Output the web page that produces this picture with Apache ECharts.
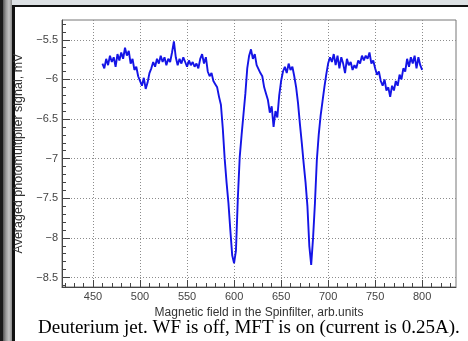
<!DOCTYPE html>
<html>
<head>
<meta charset="utf-8">
<script src="https://cdn.jsdelivr.net/npm/echarts@6/dist/echarts.min.js"></script>
<style>
  html, body { margin: 0; padding: 0; }
  body { width: 468px; height: 341px; overflow: hidden; background: #dde1e4; position: relative; }
  #panel { position: absolute; left: 12px; top: 5px; width: 456px; height: 336px;
    background: #fff; border-top: 2px solid #111; border-left: 3px solid #111; box-sizing: border-box; }
  #bar { position: absolute; left: 0; top: 0; width: 12px; height: 341px;
    background: linear-gradient(to right, #1a1a1a 0 3px, #555 3px, #9a9a9a 6px, #c4c4c4 9px, #8a8a8a 12px); }
  #chart { position: absolute; left: 0; top: 0; width: 468px; height: 341px; }
</style>
</head>
<body>
<div id="bar"></div>
<div id="panel"></div>
<div id="chart"></div>
<script>
// magnetic field, arb.units
const fieldValues = [
  460, 462, 464, 466, 468, 470, 472, 474, 476, 478,
  480, 482, 484, 486, 488, 490, 492, 494, 496, 498,
  500, 502, 504, 506, 508, 510, 512, 514, 516, 518,
  520, 522, 524, 526, 528, 530, 532, 534, 536, 538,
  540, 542, 544, 546, 548, 550, 552, 554, 556, 558,
  560, 562, 564, 566, 568, 570, 572, 574, 576, 578,
  580, 582, 584, 586, 588, 590, 592, 594, 596, 598,
  600, 602, 604, 606, 608, 610, 612, 614, 616, 618,
  620, 622, 624, 626, 628, 630, 632, 634, 636, 638,
  640, 642, 644, 646, 648, 650, 652, 654, 656, 658,
  660, 662, 664, 666, 668, 670, 672, 674, 676, 678,
  680, 682, 684, 686, 688, 690, 692, 694, 696, 698,
  700, 702, 704, 706, 708, 710, 712, 714, 716, 718,
  720, 722, 724, 726, 728, 730, 732, 734, 736, 738,
  740, 742, 744, 746, 748, 750, 752, 754, 756, 758,
  760, 762, 764, 766, 768, 770, 772, 774, 776, 778,
  780, 782, 784, 786, 788, 790, 792, 794, 796, 798,
  800
];

// averaged photomultiplier signal, mV
const signalValues = [
  -5.80, -5.86, -5.74, -5.82, -5.70, -5.78, -5.72, -5.84, -5.68, -5.76,
  -5.66, -5.74, -5.60, -5.70, -5.64, -5.80, -5.74, -5.88, -5.84, -5.96,
  -6.02, -6.08, -5.98, -6.12, -6.04, -5.92, -5.86, -5.78, -5.84, -5.74,
  -5.80, -5.70, -5.78, -5.72, -5.82, -5.74, -5.78, -5.66, -5.52, -5.72,
  -5.82, -5.74, -5.80, -5.72, -5.78, -5.84, -5.76, -5.82, -5.78, -5.84,
  -5.80, -5.86, -5.74, -5.68, -5.80, -5.72, -5.90, -5.96, -5.92, -6.02,
  -6.06, -6.10, -6.22, -6.32, -6.62, -7.00, -7.30, -7.56, -7.90, -8.22,
  -8.32, -8.16, -7.50, -6.98, -6.70, -6.44, -6.18, -5.86, -5.70, -5.62,
  -5.74, -5.68, -5.82, -5.80, -5.92, -5.96, -6.10, -6.18, -6.26, -6.42,
  -6.34, -6.60, -6.40, -6.48, -6.20, -6.02, -5.90, -5.84, -5.92, -5.80,
  -5.88, -5.84, -5.96, -6.10, -6.30, -6.56, -6.80, -7.06, -7.30, -7.60,
  -8.10, -8.34, -8.00, -7.56, -7.02, -6.70, -6.46, -6.28, -6.10, -5.94,
  -5.80, -5.72, -5.78, -5.68, -5.82, -5.70, -5.86, -5.72, -5.80, -5.92,
  -5.74, -5.82, -5.78, -5.88, -5.82, -5.86, -5.76, -5.80, -5.70, -5.76,
  -5.70, -5.74, -5.66, -5.80, -5.76, -5.86, -5.94, -5.90, -6.02, -6.08,
  -6.00, -6.14, -6.10, -6.22, -6.08, -6.14, -6.02, -6.08, -5.94, -6.00,
  -5.86, -5.90, -5.74, -5.84, -5.72, -5.80, -5.70, -5.86, -5.72, -5.82,
  -5.88
];

const xMajorTicks = [450, 500, 550, 600, 650, 700, 750, 800];
const xMinorTicks = [420, 430, 440, 460, 470, 480, 490, 510, 520, 530, 540, 560, 570, 580, 590,
  610, 620, 630, 640, 660, 670, 680, 690, 710, 720, 730, 740, 760, 770, 780, 790, 810, 820, 830];
const yMajorTicks = [-8.5, -8, -7.5, -7, -6.5, -6, -5.5];
const yMinorTicks = [-8.6, -8.4, -8.3, -8.2, -8.1, -7.9, -7.8, -7.7, -7.6, -7.4, -7.3, -7.2, -7.1,
  -6.9, -6.8, -6.7, -6.6, -6.4, -6.3, -6.2, -6.1, -5.9, -5.8, -5.7, -5.6, -5.4, -5.3];

const xRange = [417, 836];
const yRange = [-8.62, -5.25];

const font = "'Liberation Sans', Arial, sans-serif";
const chart = echarts.init(document.getElementById("chart"));

const plotBox = { left: 62, top: 20, right: 12, bottom: 54 };

chart.setOption({
  animation: false,
  backgroundColor: "transparent",
  title: {
    text: "Deuterium jet. WF is off, MFT is on (current is 0.25A).",
    left: 33,
    top: 314,
    textStyle: {
      fontFamily: "'Liberation Serif', 'Times New Roman', serif",
      fontSize: 19,
      fontWeight: "normal",
      color: "#000",
    },
  },
  grid: [
    { ...plotBox, show: true, borderColor: "#777", borderWidth: 1, backgroundColor: "transparent" },
    { ...plotBox, show: false },
  ],
  xAxis: [
    {
      type: "value",
      gridIndex: 0,
      min: xRange[0],
      max: xRange[1],
      name: "Magnetic field in the Spinfilter, arb.units",
      nameLocation: "middle",
      nameGap: 16,
      nameTextStyle: { fontFamily: font, fontSize: 12, color: "#333", verticalAlign: "top" },
      axisLine: { show: true, lineStyle: { color: "#444", width: 1 } },
      axisTick: { show: true, inside: true, length: 7, customValues: xMajorTicks, lineStyle: { color: "#444" } },
      axisLabel: {
        show: true,
        customValues: xMajorTicks,
        margin: 4,
        fontFamily: font,
        fontSize: 11,
        color: "#444",
      },
      splitLine: { show: true, lineStyle: { color: "#8c8c8c", type: [1, 2], width: 1 } },
    },
    {
      type: "value",
      gridIndex: 1,
      min: xRange[0],
      max: xRange[1],
      axisLine: { show: false },
      axisTick: { show: true, inside: true, length: 4, customValues: xMinorTicks, lineStyle: { color: "#444" } },
      axisLabel: { show: false },
      splitLine: { show: false },
    },
  ],
  yAxis: [
    {
      type: "value",
      gridIndex: 0,
      min: yRange[0],
      max: yRange[1],
      name: "Averaged photomultiplier signal, mV",
      nameLocation: "middle",
      nameGap: 29,
      nameRotate: 90,
      nameTextStyle: { fontFamily: font, fontSize: 12.5, color: "#333" },
      axisLine: { show: true, lineStyle: { color: "#444", width: 1 } },
      axisTick: { show: true, inside: true, length: 8, customValues: yMajorTicks, lineStyle: { color: "#444" } },
      axisLabel: {
        show: true,
        customValues: yMajorTicks,
        margin: 4,
        fontFamily: font,
        fontSize: 11,
        color: "#444",
        formatter: (v) => String(v).replace("-", "\u2212"),
      },
      splitLine: { show: true, lineStyle: { color: "#8c8c8c", type: [1, 2], width: 1 } },
    },
    {
      type: "value",
      gridIndex: 1,
      min: yRange[0],
      max: yRange[1],
      axisLine: { show: false },
      axisTick: { show: true, inside: true, length: 4, customValues: yMinorTicks, lineStyle: { color: "#444" } },
      axisLabel: { show: false },
      splitLine: { show: false },
    },
  ],
  series: [
    {
      type: "line",
      xAxisIndex: 0,
      yAxisIndex: 0,
      data: fieldValues.map((x, i) => [x, signalValues[i]]),
      showSymbol: false,
      lineStyle: { color: "#1414e6", width: 1.9 },
    },
  ],
});
</script>
</body>
</html>
